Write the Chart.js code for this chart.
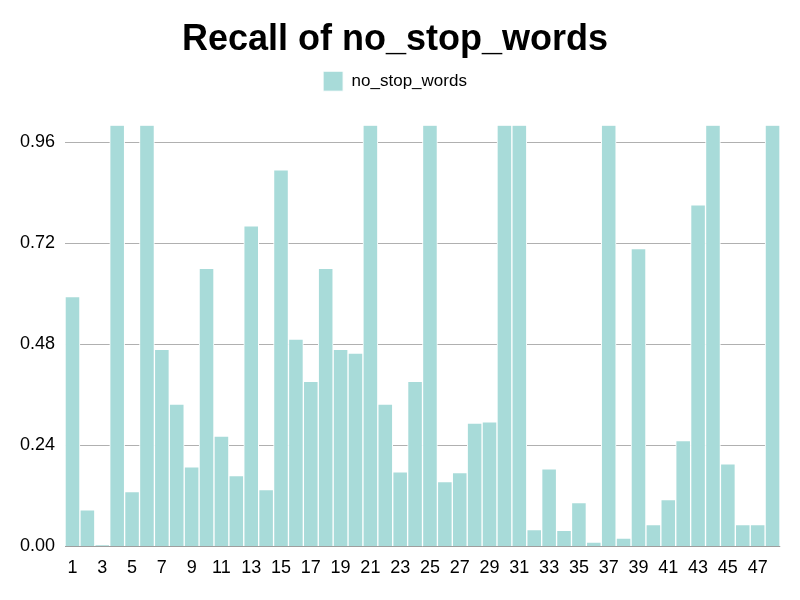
<!DOCTYPE html>
<html>
<head>
<meta charset="utf-8">
<script src="https://cdn.jsdelivr.net/npm/chart.js@4"></script>
<style>
  body { margin: 0; background: #fff; }
  #wrap { width: 800px; height: 600px; }
</style>
</head>
<body>
<div id="wrap"><canvas id="chart"></canvas></div>
<script>
const labels = [];
for (let i = 1; i <= 48; i++) labels.push(String(i));

const recall = [0.593, 0.087, 0.003, 1, 0.13, 1, 0.468, 0.338, 0.189, 0.66,
  0.262, 0.168, 0.761, 0.135, 0.894, 0.492, 0.392, 0.66, 0.468, 0.459,
  1, 0.338, 0.177, 0.392, 1, 0.154, 0.175, 0.293, 0.296, 1,
  1, 0.04, 0.184, 0.038, 0.104, 0.01, 1, 0.02, 0.707, 0.052,
  0.111, 0.251, 0.811, 1, 0.196, 0.052, 0.052, 1];

const yTicks = [0, 0.24, 0.48, 0.72, 0.96];

Chart.defaults.font.family = 'Arial, "Liberation Sans", sans-serif';
Chart.defaults.color = '#000';

// extra room below the legend
const legendGap = {
  id: 'legendGap',
  beforeInit(chart) {
    const fit = chart.legend.fit;
    chart.legend.fit = function() {
      fit.bind(chart.legend)();
      this.height += 24;
    };
  }
};

new Chart('chart', {
  type: 'bar',
  plugins: [legendGap],
  data: {
    labels: labels,
    datasets: [{
      label: 'no_stop_words',
      data: recall,
      backgroundColor: '#a8dbd9',
      borderColor: '#ffffff',
      borderWidth: 1,
      barPercentage: 1,
      categoryPercentage: 1
    }]
  },
  options: {
    responsive: true,
    maintainAspectRatio: false,
    animation: false,
    layout: { padding: { left: 10, right: 20, bottom: 18 } },
    plugins: {
      title: {
        display: true,
        text: 'Recall of no_stop_words',
        font: { size: 36, weight: 'bold' },
        padding: { top: 18, bottom: 0 }
      },
      legend: {
        labels: { font: { size: 17 }, boxWidth: 20, boxHeight: 20 }
      }
    },
    scales: {
      x: {
        grid: { display: false },
        ticks: { font: { size: 18 }, maxRotation: 0, autoSkip: true }
      },
      y: {
        min: 0,
        max: 1,
        afterBuildTicks: function(axis) {
          axis.ticks = yTicks.map(v => ({ value: v }));
        },
        grid: { color: '#b0b0b0', drawTicks: false },
        border: { display: false },
        ticks: {
          font: { size: 18 },
          padding: 10,
          callback: v => v.toFixed(2)
        }
      }
    }
  }
});
</script>
</body>
</html>
